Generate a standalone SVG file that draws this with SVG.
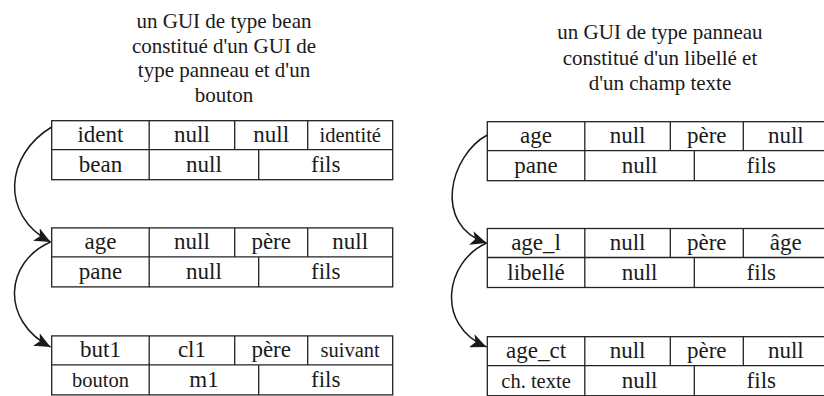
<svg xmlns="http://www.w3.org/2000/svg" width="824" height="396" viewBox="0 0 824 396" font-family="'Liberation Serif', serif">
  <style>
    .cell { fill: none; stroke: #222; stroke-width: 1.3; }
    .t { font-size: 23px; fill: #1a1a1a; text-anchor: middle; }
    .s { font-size: 20.5px; }
    .title { font-size: 21px; fill: #1a1a1a; text-anchor: middle; }
    .link { fill: none; stroke: #1a1a1a; stroke-width: 1.5; }
  </style>
  <defs>
    <marker id="arrow" markerUnits="userSpaceOnUse" markerWidth="18" markerHeight="14" refX="16" refY="7" orient="auto">
      <path d="M0,0 L16,7 L0,14 L4,7 z" fill="#1a1a1a"/>
    </marker>
    <!-- record frame: top row of four fields, bottom row of three -->
    <g id="frame">
      <rect class="cell" x="0" y="0" width="341" height="59"/>
      <line class="cell" x1="0" y1="29" x2="341" y2="29"/>
      <line class="cell" x1="97.5" y1="0" x2="97.5" y2="59"/>
      <line class="cell" x1="183" y1="0" x2="183" y2="29"/>
      <line class="cell" x1="256" y1="0" x2="256" y2="29"/>
      <line class="cell" x1="207" y1="29" x2="207" y2="59"/>
    </g>
  </defs>

  <!-- headings -->
  <g id="title-bean" class="title" font-family="Liberation Serif">
    <text x="224" y="27.5">un GUI de type bean</text>
    <text x="224" y="52.5">constitué d'un GUI de</text>
    <text x="224" y="77">type panneau et d'un</text>
    <text x="224" y="101.5">bouton</text>
  </g>
  <g id="title-panneau" class="title" font-family="Liberation Serif">
    <text x="660" y="39">un GUI de type panneau</text>
    <text x="660" y="64.5">constitué d'un libellé et</text>
    <text x="660" y="89.5">d'un champ texte</text>
  </g>

  <!-- left column -->
  <g id="ident" transform="translate(51.7,120.7)" font-family="Liberation Serif">
    <use href="#frame"/>
    <text class="t" x="48.75" y="21">ident</text>
    <text class="t" x="140.25" y="21">null</text>
    <text class="t" x="219.5" y="21">null</text>
    <text class="t s" x="298.5" y="21">identité</text>
    <text class="t" x="48.75" y="51.5">bean</text>
    <text class="t" x="152.25" y="51.5">null</text>
    <text class="t" x="274" y="51.5">fils</text>
  </g>
  <g id="age-pane" transform="translate(51.7,227.9)" font-family="Liberation Serif">
    <use href="#frame"/>
    <text class="t" x="48.75" y="21">age</text>
    <text class="t" x="140.25" y="21">null</text>
    <text class="t" x="219.5" y="21">père</text>
    <text class="t" x="298.5" y="21">null</text>
    <text class="t" x="48.75" y="51.5">pane</text>
    <text class="t" x="152.25" y="51.5">null</text>
    <text class="t" x="274" y="51.5">fils</text>
  </g>
  <g id="but1" transform="translate(51.7,335.9)" font-family="Liberation Serif">
    <use href="#frame"/>
    <text class="t" x="48.75" y="21">but1</text>
    <text class="t" x="140.25" y="21">cl1</text>
    <text class="t" x="219.5" y="21">père</text>
    <text class="t s" x="298.5" y="21">suivant</text>
    <text class="t s" x="48.75" y="51.5">bouton</text>
    <text class="t" x="152.25" y="51.5">m1</text>
    <text class="t" x="274" y="51.5">fils</text>
  </g>

  <!-- right column -->
  <g id="age" transform="translate(487.3,121.7)" font-family="Liberation Serif">
    <use href="#frame"/>
    <text class="t" x="48.75" y="21">age</text>
    <text class="t" x="140.25" y="21">null</text>
    <text class="t" x="219.5" y="21">père</text>
    <text class="t" x="298.5" y="21">null</text>
    <text class="t" x="48.75" y="51.5">pane</text>
    <text class="t" x="152.25" y="51.5">null</text>
    <text class="t" x="274" y="51.5">fils</text>
  </g>
  <g id="age_l" transform="translate(487.3,228.5)" font-family="Liberation Serif">
    <use href="#frame"/>
    <text class="t" x="48.75" y="21">age_l</text>
    <text class="t" x="140.25" y="21">null</text>
    <text class="t" x="219.5" y="21">père</text>
    <text class="t" x="298.5" y="21">âge</text>
    <text class="t" x="48.75" y="51.5">libellé</text>
    <text class="t" x="152.25" y="51.5">null</text>
    <text class="t" x="274" y="51.5">fils</text>
  </g>
  <g id="age_ct" transform="translate(487.3,336.7)" font-family="Liberation Serif">
    <use href="#frame"/>
    <text class="t" x="48.75" y="21">age_ct</text>
    <text class="t" x="140.25" y="21">null</text>
    <text class="t" x="219.5" y="21">père</text>
    <text class="t" x="298.5" y="21">null</text>
    <text class="t s" x="48.75" y="51.5">ch. texte</text>
    <text class="t" x="152.25" y="51.5">null</text>
    <text class="t" x="274" y="51.5">fils</text>
  </g>

  <!-- links between records -->
  <g id="connectors">
    <path class="link" d="M51.7,127 C5,155 0,215 50.5,242" marker-end="url(#arrow)"/>
    <path class="link" d="M50.5,242 C5,262 0,320 50.5,347" marker-end="url(#arrow)"/>
    <path class="link" d="M487.3,135 C450,155 432,225 486.5,243" marker-end="url(#arrow)"/>
    <path class="link" d="M486.5,243 C445,262 435,325 486.5,347" marker-end="url(#arrow)"/>
  </g>
</svg>
